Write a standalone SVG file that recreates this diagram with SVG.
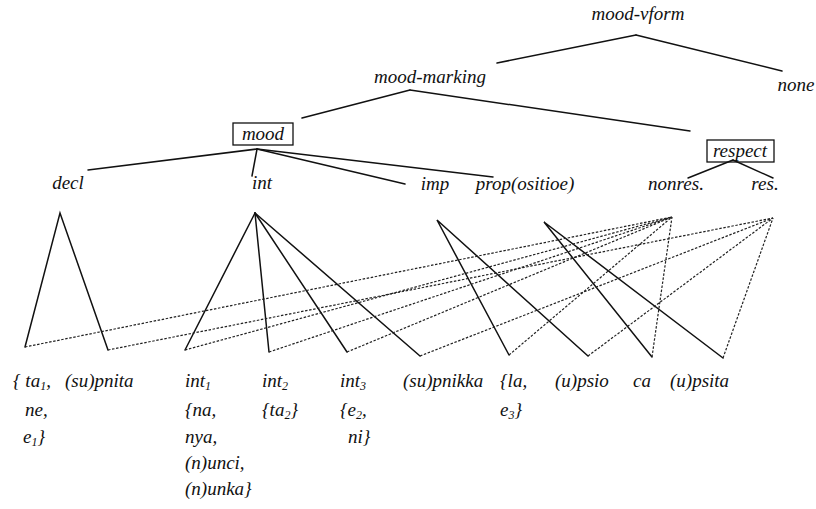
<svg xmlns="http://www.w3.org/2000/svg" width="816" height="509" viewBox="0 0 816 509">
  <style>
    text { font-family: "Liberation Serif", "Times New Roman", serif; font-style: italic; font-size: 19px; fill: #111; }
    .c { text-anchor: middle; }
    .sub { font-size: 12px; }
    .edge { stroke: #111; stroke-width: 1.5; fill: none; stroke-linecap: round; }
    .link { stroke: #222; stroke-width: 1.2; fill: none; stroke-dasharray: 2.5 1.6; }
    .box { fill: none; stroke: #111; stroke-width: 1.3; }
  </style>
  <rect width="816" height="509" fill="#fff"/>

  <!-- tree edges and cross links -->
  <g id="connectors">
    <line class="edge" x1="636" y1="35" x2="497" y2="63"/>
    <line class="edge" x1="636" y1="35" x2="782" y2="71"/>
    <line class="edge" x1="410" y1="90" x2="302" y2="118"/>
    <line class="edge" x1="410" y1="90" x2="690" y2="131"/>
    <line class="edge" x1="257" y1="149" x2="88" y2="170"/>
    <line class="edge" x1="257" y1="149" x2="252" y2="176"/>
    <line class="edge" x1="257" y1="149" x2="405" y2="184"/>
    <line class="edge" x1="257" y1="149" x2="493" y2="177"/>
    <line class="edge" x1="733" y1="160" x2="688" y2="178"/>
    <line class="edge" x1="733" y1="160" x2="773" y2="178"/>

    <polyline class="edge" points="25,347 60,213 108,350"/>
    <line class="edge" x1="255" y1="213" x2="185" y2="350"/>
    <line class="edge" x1="255" y1="213" x2="269" y2="352"/>
    <line class="edge" x1="255" y1="213" x2="347" y2="352"/>
    <line class="edge" x1="255" y1="213" x2="420" y2="356"/>
    <polyline class="edge" points="509,355 437,220 588,356"/>
    <polyline class="edge" points="652,357 544,222 723,358"/>

    <!-- links to nonres. -->
    <line class="link" x1="25" y1="347" x2="672" y2="217"/>
    <line class="link" x1="185" y1="350" x2="672" y2="217"/>
    <line class="link" x1="269" y1="352" x2="672" y2="217"/>
    <line class="link" x1="347" y1="352" x2="672" y2="217"/>
    <line class="link" x1="509" y1="355" x2="672" y2="217"/>
    <line class="link" x1="652" y1="357" x2="672" y2="217"/>
    <!-- links to res. -->
    <line class="link" x1="108" y1="350" x2="773" y2="218"/>
    <line class="link" x1="420" y1="356" x2="773" y2="218"/>
    <line class="link" x1="588" y1="356" x2="773" y2="218"/>
    <line class="link" x1="723" y1="358" x2="773" y2="218"/>
  </g>

  <g id="mood-vform"><text class="c" x="638" y="20">mood-vform</text></g>
  <g id="mood-marking"><text class="c" x="430" y="83">mood-marking</text></g>
  <g id="none"><text class="c" x="796" y="91">none</text></g>
  <g id="mood">
    <rect class="box" x="233" y="123" width="60" height="22"/>
    <text class="c" x="263" y="140">mood</text>
  </g>
  <g id="respect">
    <rect class="box" x="707" y="140" width="67" height="22"/>
    <text class="c" x="740" y="157">respect</text>
  </g>

  <g id="decl"><text class="c" x="68" y="189">decl</text></g>
  <g id="int"><text class="c" x="262" y="189">int</text></g>
  <g id="imp"><text class="c" x="435" y="190">imp</text></g>
  <g id="prop"><text class="c" x="525" y="190">prop(ositioe)</text></g>
  <g id="nonres"><text class="c" x="676" y="190">nonres.</text></g>
  <g id="res"><text class="c" x="765" y="190">res.</text></g>

  <g id="ta1">
    <text x="13" y="387">{ ta<tspan class="sub" dy="3">1</tspan><tspan dy="-3">,</tspan></text>
    <text x="25" y="416">ne,</text>
    <text x="23" y="443">e<tspan class="sub" dy="3">1</tspan><tspan dy="-3">}</tspan></text>
  </g>
  <g id="supnita"><text x="65" y="387">(su)pnita</text></g>
  <g id="int1">
    <text x="185" y="387">int<tspan class="sub" dy="3">1</tspan></text>
    <text x="185" y="416">{na,</text>
    <text x="185" y="443">nya,</text>
    <text x="185" y="469">(n)unci,</text>
    <text x="185" y="495">(n)unka}</text>
  </g>
  <g id="int2">
    <text x="262" y="387">int<tspan class="sub" dy="3">2</tspan></text>
    <text x="262" y="416">{ta<tspan class="sub" dy="3">2</tspan><tspan dy="-3">}</tspan></text>
  </g>
  <g id="int3">
    <text x="340" y="387">int<tspan class="sub" dy="3">3</tspan></text>
    <text x="340" y="416">{e<tspan class="sub" dy="3">2</tspan><tspan dy="-3">,</tspan></text>
    <text x="348" y="443">ni}</text>
  </g>
  <g id="supnikka"><text x="403" y="387">(su)pnikka</text></g>
  <g id="la">
    <text x="500" y="387">{la,</text>
    <text x="500" y="416">e<tspan class="sub" dy="3">3</tspan><tspan dy="-3">}</tspan></text>
  </g>
  <g id="upsio"><text x="555" y="387">(u)psio</text></g>
  <g id="ca"><text x="633" y="387">ca</text></g>
  <g id="upsita"><text x="670" y="387">(u)psita</text></g>
</svg>
